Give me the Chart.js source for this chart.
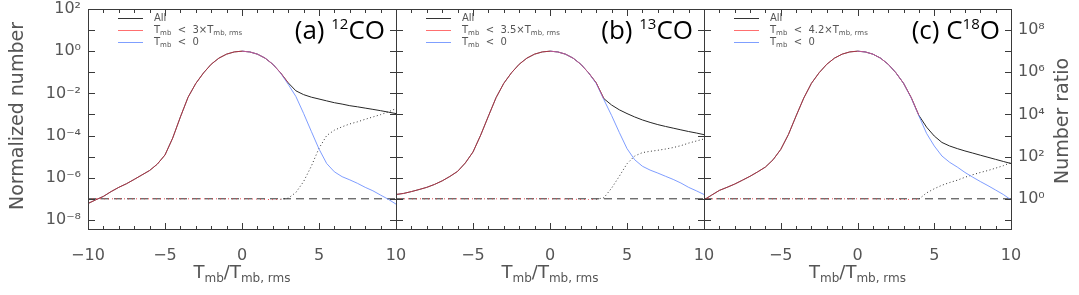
<!DOCTYPE html>
<html lang="en">
<head>
<meta charset="UTF-8">
<title>Normalized number distributions</title>
<script src="https://cdn.jsdelivr.net/npm/chart.js"></script>
<style>
  body { margin: 0; background: #ffffff; }
  #wrap { position: relative; width: 1079px; height: 295px; }
  #wrap canvas { position: absolute; left: 0; top: 0; }
</style>
</head>
<body>
<div id="wrap">
  <canvas id="panelA" width="1079" height="295"></canvas>
  <canvas id="panelB" width="1079" height="295"></canvas>
  <canvas id="panelC" width="1079" height="295"></canvas>
</div>
<script>
// shared x grid (Tmb / Tmb,rms)
const xGrid = [-10, -9.5, -9, -8.5, -8, -7.5, -7, -6.5, -6, -5.5, -5, -4.5, -4, -3.5, -3, -2.5, -2, -1.5, -1, -0.5,
  0, 0.5, 1, 1.5, 2, 2.5, 3, 3.5, 4, 4.5, 5, 5.5, 6, 6.5, 7, 7.5, 8, 8.5, 9, 9.5, 10];
// x grid of the mirrored Tmb < 0 histogram
const xPos = [0, 0.5, 1, 1.5, 2, 2.5, 3, 3.5, 4, 4.5, 5, 5.5, 6, 6.5, 7, 7.5, 8, 8.5, 9, 9.5, 10];

// (a) 12CO
const allA = [6.0e-8, 8.9e-8, 1.3e-7, 2.2e-7, 3.5e-7, 5.2e-7, 8.3e-7, 1.35e-6, 2.2e-6, 4.4e-6, 1.2e-5, 7.6e-5, 7.6e-4,
  6.6e-3, 0.0295, 0.093, 0.24, 0.468, 0.724, 0.923, 1.0,
  0.923, 0.724, 0.468, 0.24, 0.095, 0.0316, 0.0132, 8.7e-3, 6.6e-3, 5.4e-3, 4.4e-3, 3.6e-3, 3.1e-3, 2.6e-3, 2.3e-3,
  2.0e-3, 1.74e-3, 1.51e-3, 1.29e-3, 1.1e-3];
const blueA = [1.0, 0.923, 0.724, 0.468, 0.24, 0.093, 0.0269, 7.1e-3, 1.12e-3, 1.58e-4, 2.3e-5, 4.7e-6, 1.9e-6, 1.12e-6,
  7.9e-7, 5.4e-7, 3.5e-7, 2.4e-7, 1.5e-7, 9.5e-8, 5.6e-8];
const ratioLowXA = [-10, -9.5, -9, -8.5, -8, -7.5, -7, -6.5, -6, -5.5, -5, -4.5, -4, -3.5, -3, -2.5, -2, -1.5, -1, -0.5,
  0, 0.5, 1, 1.5, 2, 2.5];
const ratioLowA = [1, 1, 1, 1, 1, 1, 1, 1, 1, 1, 1, 1, 1, 1, 1, 1, 1, 1, 1, 1, 1, 0.99, 0.97, 0.93, 0.92, 0.95];
const ratioHighXA = [2.5, 3, 3.5, 4, 4.5, 5, 5.5, 6, 6.5, 7, 7.5, 8, 8.5, 9, 9.5, 10];
const ratioHighA = [0.95, 1.07, 2.0, 6.6, 35, 250, 1000, 1800, 2600, 3550, 4470, 5900, 7600, 9800, 1.32e4, 1.9e4];

// (b) 13CO
const allB = [1.6e-7, 1.8e-7, 2.2e-7, 2.75e-7, 3.5e-7, 4.8e-7, 7.1e-7, 1.15e-6, 2.0e-6, 5.0e-6, 1.66e-5, 1.05e-4, 8.3e-4,
  6.3e-3, 0.030, 0.095, 0.24, 0.468, 0.724, 0.923, 1.0,
  0.923, 0.724, 0.468, 0.24, 0.095, 0.0316, 5.6e-3, 2.8e-3, 1.66e-3, 1.1e-3, 7.6e-4, 5.5e-4, 4.2e-4, 3.3e-4, 2.7e-4,
  2.24e-4, 1.86e-4, 1.55e-4, 1.32e-4, 1.1e-4];
const blueB = [1.0, 0.923, 0.724, 0.468, 0.24, 0.095, 0.0295, 5.0e-3, 8.9e-4, 1.4e-4, 2.4e-5, 7.1e-6, 3.5e-6, 2.3e-6,
  1.66e-6, 1.17e-6, 8.3e-7, 5.6e-7, 3.5e-7, 2.4e-7, 1.6e-7];
const ratioLowXB = [-10, -9.5, -9, -8.5, -8, -7.5, -7, -6.5, -6, -5.5, -5, -4.5, -4, -3.5, -3, -2.5, -2, -1.5, -1, -0.5,
  0, 0.5, 1, 1.5, 2, 2.5, 3];
const ratioLowB = [1, 1, 1, 1, 1, 1, 1, 1, 1, 1, 1, 1, 1, 1, 1, 1, 1, 1, 1, 1, 1, 1, 0.98, 0.96, 0.93, 0.93, 0.95];
const ratioHighXB = [3, 3.5, 4, 4.5, 5, 5.5, 6, 6.5, 7, 7.5, 8, 8.5, 9, 9.5, 10];
const ratioHighB = [0.95, 1.12, 3.2, 11.7, 46, 107, 155, 178, 200, 229, 269, 331, 437, 550, 690];

// (c) C18O
const allC = [8.9e-8, 1.5e-7, 2.5e-7, 3.5e-7, 5.0e-7, 7.6e-7, 1.17e-6, 1.9e-6, 3.2e-6, 7.1e-6, 2.2e-5, 1.12e-4, 8.5e-4,
  6.0e-3, 0.030, 0.095, 0.24, 0.468, 0.724, 0.923, 1.0,
  0.923, 0.724, 0.468, 0.24, 0.095, 0.030, 6.3e-3, 9.0e-4, 2.5e-4, 9.5e-5, 4.7e-5, 3.2e-5, 2.4e-5, 1.86e-5, 1.48e-5,
  1.17e-5, 9.3e-6, 7.4e-6, 5.9e-6, 4.7e-6];
const blueC = [1.0, 0.923, 0.724, 0.468, 0.24, 0.095, 0.030, 6.0e-3, 8.5e-4, 1.26e-4, 3.2e-5, 1.07e-5, 5.4e-6, 3.2e-6,
  1.78e-6, 1.07e-6, 6.6e-7, 4.2e-7, 2.6e-7, 1.6e-7, 8.9e-8];
const ratioLowXC = [-10, -9.5, -9, -8.5, -8, -7.5, -7, -6.5, -6, -5.5, -5, -4.5, -4, -3.5, -3, -2.5, -2, -1.5, -1, -0.5,
  0, 0.5, 1, 1.5, 2, 2.5, 3, 3.5, 4];
const ratioLowC = [1, 1, 1, 1, 1, 1, 1, 1, 1, 1, 1, 1, 1, 1, 1, 1, 1, 1, 1, 1, 1, 1, 1, 0.98, 0.96, 0.94, 0.93, 0.94, 0.97];
const ratioHighXC = [4, 4.5, 5, 5.5, 6, 6.5, 7, 7.5, 8, 8.5, 9, 9.5, 10];
const ratioHighC = [0.97, 1.9, 3.0, 4.4, 5.9, 7.6, 10.5, 13.8, 17.7, 22, 28.5, 37, 53];

// reference line at ratio = 1
const unityX = [-10, 10];
const unityRatio = [1, 1];

// axis ticks and labels
const leftLabelVals = [1e-8, 1e-6, 1e-4, 1e-2, 1, 100];
const rightLabelVals = [1, 100, 1e4, 1e6, 1e8];
const decadeVals = [1e-8, 1e-7, 1e-6, 1e-5, 1e-4, 1e-3, 1e-2, 0.1, 1, 10, 100];
const Y_MIN = 3.7e-9, Y_MAX = 100;
const R_MIN = 3.7e-2, R_MAX = 1e9;

const panels = [
  { id: 'panelA', left: 88, right: 396, tag: '(a) ', pre: '', iso: '12', post: 'CO', thr: '3',
    all: allA, blue: blueA, redN: 27, lowX: ratioLowXA, low: ratioLowA, highX: ratioHighXA, high: ratioHighA },
  { id: 'panelB', left: 396, right: 704, tag: '(b) ', pre: '', iso: '13', post: 'CO', thr: '3.5',
    all: allB, blue: blueB, redN: 28, lowX: ratioLowXB, low: ratioLowB, highX: ratioHighXB, high: ratioHighB },
  { id: 'panelC', left: 704, right: 1011, tag: '(c) ', pre: 'C', iso: '18', post: 'O', thr: '4.2',
    all: allC, blue: blueC, redN: 29, lowX: ratioLowXC, low: ratioLowC, highX: ratioHighXC, high: ratioHighC }
];

const SUP = { '0': '\u2070', '1': '\u00b9', '2': '\u00b2', '3': '\u00b3', '4': '\u2074', '5': '\u2075',
  '6': '\u2076', '7': '\u2077', '8': '\u2078', '9': '\u2079', '-': '\u207b' };
function powLabel(v) {
  const e = String(Math.round(Math.log10(v)));
  return '10' + e.split('').map(c => SUP[c]).join('');
}

const TXT = '#555555';
const FONT = '"DejaVu Sans"';

// draw a run of text pieces: [text, size, dy]
function drawRich(ctx, parts, x, y, align, family) {
  let w = 0;
  parts.forEach(([t, s]) => { ctx.font = s + 'px ' + family; w += ctx.measureText(t).width; });
  let cx = align === 'center' ? x - w / 2 : (align === 'right' ? x - w : x);
  ctx.textAlign = 'left';
  parts.forEach(([t, s, dy]) => {
    ctx.font = s + 'px ' + family;
    ctx.fillText(t, cx, y + (dy || 0));
    cx += ctx.measureText(t).width;
  });
}

function framePlugin(p, idx) {
  return {
    id: 'frame' + idx,
    afterDatasetsDraw(chart) {
      const { ctx, chartArea: a, scales } = chart;
      const ys = scales.y, xs = scales.x;
      ctx.save();
      ctx.strokeStyle = '#3a3a3a';
      ctx.lineWidth = 1;
      ctx.strokeRect(a.left + 0.5, a.top + 0.5, a.right - a.left, a.bottom - a.top);

      // inward ticks
      ctx.beginPath();
      decadeVals.forEach(v => {
        const y = Math.round(ys.getPixelForValue(v)) + 0.5;
        ctx.moveTo(a.left, y); ctx.lineTo(a.left + 7, y);
        ctx.moveTo(a.right + 1, y); ctx.lineTo(a.right - 6, y);
      });
      for (let k = -10; k <= 10; k++) {
        const x = Math.round(xs.getPixelForValue(k)) + 0.5;
        const len = k % 5 === 0 ? 6 : 3;
        ctx.moveTo(x, a.bottom); ctx.lineTo(x, a.bottom - len);
        ctx.moveTo(x, a.top + 1); ctx.lineTo(x, a.top + 1 + len);
      }
      ctx.stroke();

      // legend
      const lx = a.left + 30, tx = a.left + 66;
      const rows = [
        { y: 18, c: '#333333', parts: [['All', 10]] },
        { y: 30, c: '#ff6f6f', parts: [['T', 10], ['mb', 7, 2], ['  <  ' + p.thr + '\u00d7T', 10], ['mb, rms', 7, 2]] },
        { y: 42, c: '#7f9fff', parts: [['T', 10], ['mb', 7, 2], ['  <  0', 10]] }
      ];
      ctx.fillStyle = TXT;
      ctx.textBaseline = 'alphabetic';
      rows.forEach(r => {
        ctx.strokeStyle = r.c;
        ctx.beginPath(); ctx.moveTo(lx, r.y + 0.5); ctx.lineTo(lx + 25, r.y + 0.5); ctx.stroke();
        drawRich(ctx, r.parts, tx, r.y + 3, 'left', FONT);
      });

      // panel title
      ctx.fillStyle = '#000000';
      const tparts = [[p.tag + p.pre, 26], [p.iso, 15, -10], [p.post, 26]];
      drawRich(ctx, tparts, a.right - 11, 39, 'right', '"Open Sans"');

      // x title
      ctx.fillStyle = TXT;
      drawRich(ctx, [['T', 18], ['mb', 12, 4], ['/T', 18], ['mb, rms', 12, 4]], (a.left + a.right) / 2, 278, 'center', FONT);

      // y titles
      ctx.font = '19px ' + FONT;
      ctx.textAlign = 'center';
      ctx.textBaseline = 'middle';
      if (idx === 0) {
        ctx.save(); ctx.translate(18, 116); ctx.rotate(-Math.PI / 2);
        ctx.fillText('Normalized number', 0, 0); ctx.restore();
      }
      if (idx === 2) {
        ctx.save(); ctx.translate(1063, 121); ctx.rotate(-Math.PI / 2);
        ctx.fillText('Number ratio', 0, 0); ctx.restore();
      }
      ctx.restore();
    }
  };
}

function pts(xs, ys) { return ys.map((v, i) => ({ x: xs[i], y: v })); }

panels.forEach((p, idx) => {
  const first = idx === 0, last = idx === 2;
  const red = p.all.slice(0, p.redN);
  new Chart(document.getElementById(p.id), {
    type: 'line',
    data: {
      datasets: [
        { label: 'red', data: pts(xGrid, red), borderColor: 'rgba(255, 60, 90, 0.6)' },
        { label: 'blue', data: pts(xPos, p.blue), borderColor: 'rgba(105, 140, 255, 0.85)' },
        { label: 'All', data: pts(xGrid, p.all), borderColor: '#262626' },
        { label: 'ratioLow', data: pts(p.lowX, p.low), yAxisID: 'y2', borderColor: 'rgba(235, 60, 70, 0.9)', borderDash: [1, 3] },
        { label: 'ratioHigh', data: pts(p.highX, p.high), yAxisID: 'y2', borderColor: '#333333', borderDash: [1, 2.5] },
        { label: 'unity', data: pts(unityX, unityRatio), yAxisID: 'y2', borderColor: '#333333', borderDash: [8, 5] }
      ]
    },
    options: {
      responsive: false,
      animation: false,
      layout: { padding: { left: first ? 0 : p.left, right: last ? 0 : 1079 - p.right, top: 9, bottom: 0 } },
      elements: { point: { radius: 0 }, line: { borderWidth: 1, tension: 0, fill: false } },
      plugins: { legend: { display: false }, tooltip: { enabled: false } },
      scales: {
        x: {
          type: 'linear', min: -10, max: 10,
          grid: { display: false, drawTicks: false }, border: { display: false },
          ticks: {
            stepSize: 5, autoSkip: false, maxRotation: 0, padding: 17, color: TXT,
            font: { family: 'DejaVu Sans', size: 16 },
            callback: v => (v === -10 && !first) ? '' : String(v).replace('-', '\u2212')
          },
          afterFit: s => { s.height = 66; s.paddingLeft = 0; s.paddingRight = 0; }
        },
        y: {
          type: 'logarithmic', min: Y_MIN, max: Y_MAX, display: first,
          grid: { display: false, drawTicks: false }, border: { display: false },
          afterBuildTicks: s => { s.ticks = leftLabelVals.map(v => ({ value: v })); },
          ticks: { padding: 7, color: TXT, font: { family: 'DejaVu Sans', size: 16 }, callback: v => powLabel(v) },
          afterFit: s => { s.width = first ? 88 : 0; s.paddingTop = 0; s.paddingBottom = 0; }
        },
        y2: {
          type: 'logarithmic', position: 'right', min: R_MIN, max: R_MAX, display: last,
          grid: { display: false, drawTicks: false }, border: { display: false },
          afterBuildTicks: s => { s.ticks = rightLabelVals.map(v => ({ value: v })); },
          ticks: { padding: 7, color: TXT, font: { family: 'DejaVu Sans', size: 16 }, callback: v => powLabel(v) },
          afterFit: s => { s.width = last ? 68 : 0; s.paddingTop = 0; s.paddingBottom = 0; }
        }
      }
    },
    plugins: [framePlugin(p, idx)]
  });
});
</script>
</body>
</html>
